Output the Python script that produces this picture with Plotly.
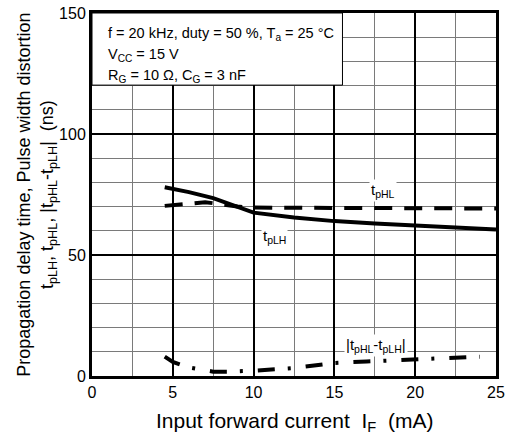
import plotly.graph_objects as go

# Input forward current (mA)
if_tplh = [4.5, 6.0, 7.5, 8.5, 10.0, 12.5, 15.0, 17.5, 20.0, 22.5, 25.0]
tplh = [78.0, 76.0, 73.5, 71.0, 67.5, 65.5, 64.0, 63.0, 62.2, 61.5, 60.5]

if_tphl = [4.5, 6.0, 7.0, 8.0, 9.0, 10.0, 15.0, 20.0, 25.0]
tphl = [70.3, 71.2, 71.8, 71.0, 70.0, 69.6, 69.5, 69.4, 69.2]

if_pwd = [4.5, 5.0, 6.0, 7.5, 8.5, 10.0, 12.5, 14.0, 15.0, 17.0, 20.0, 22.5, 24.0]
pwd = [8.0, 5.8, 3.5, 1.8, 1.8, 2.2, 3.3, 4.5, 5.4, 6.0, 7.0, 7.8, 8.0]

FONT = "Liberation Sans, Arial, sans-serif"

fig = go.Figure()
fig.add_trace(go.Scatter(x=if_tplh, y=tplh, mode="lines",
                         line=dict(color="black", width=4), showlegend=False))
fig.add_trace(go.Scatter(x=if_tphl, y=tphl, mode="lines",
                         line=dict(color="black", width=4, dash="18px,12px"),
                         showlegend=False))
fig.add_trace(go.Scatter(x=if_pwd, y=pwd, mode="lines",
                         line=dict(color="black", width=4, dash="17px,13px,3px,15px"),
                         showlegend=False))

# Condition box in the upper-left corner (covers the grid behind it)
fig.add_shape(type="rect", xref="x", yref="y", x0=0, x1=15.5, y0=120.2, y1=150,
              fillcolor="white", line=dict(color="black", width=1), layer="above")
conditions = [
    "f = 20 kHz, duty = 50 %, T<sub>a</sub> = 25 °C",
    "V<sub>CC</sub> = 15 V",
    "R<sub>G</sub> = 10 Ω, C<sub>G</sub> = 3 nF",
]
for i, line in enumerate(conditions):
    fig.add_annotation(xref="x", yref="y", x=0.85, y=141.2 - i * 8.6,
                       xanchor="left", yanchor="middle", align="left",
                       showarrow=False, text=line,
                       font=dict(family=FONT, size=14.5, color="black"))

# Curve labels
labels = [
    (18.0, 76.5, "t<sub>pHL</sub>"),
    (11.3, 57.5, "t<sub>pLH</sub>"),
    (17.6, 12.5, "|t<sub>pHL</sub>-t<sub>pLH</sub>|"),
]
for lx, ly, lt in labels:
    fig.add_annotation(x=lx, y=ly, text=lt, showarrow=False, bgcolor="white",
                       font=dict(family=FONT, size=15, color="black"), borderpad=1)

fig.add_annotation(xref="paper", yref="paper", x=-0.2, y=0.5, textangle=-90,
                   showarrow=False, align="center",
                   font=dict(family=FONT, size=18, color="black"),
                   text=("Propagation delay time, Pulse width distortion<br>"
                         "t<sub>pLH</sub>, t<sub>pHL</sub>, |t<sub>pHL</sub>-t<sub>pLH</sub>|  (ns)"))

fig.add_annotation(xref="paper", yref="paper", x=0.5, y=-0.127, yanchor="middle",
                   showarrow=False,
                   font=dict(family=FONT, size=21, color="black"),
                   text="Input forward current  I<sub>F</sub>  (mA)")

fig.update_xaxes(range=[0, 25], dtick=5, tick0=0, showgrid=True, gridcolor="black",
                 gridwidth=2, zeroline=False, showline=True, mirror=True,
                 linecolor="black", linewidth=3, ticks="", automargin=False,
                 tickfont=dict(family=FONT, size=16, color="black"),
                 minor=dict(dtick=2.5, tick0=0, showgrid=True, gridcolor="#7a7a7a",
                            gridwidth=1))
fig.update_yaxes(range=[0, 150], dtick=50, tick0=0, showgrid=True, gridcolor="black",
                 gridwidth=2, zeroline=False, showline=True, mirror=True,
                 linecolor="black", linewidth=3, ticks="", automargin=False,
                 tickfont=dict(family=FONT, size=16, color="black"),
                 minor=dict(dtick=10, tick0=0, showgrid=True, gridcolor="#7a7a7a",
                            gridwidth=1))

fig.update_layout(width=509, height=434, margin=dict(l=92, r=13, t=13, b=58),
                  plot_bgcolor="white", paper_bgcolor="white",
                  font=dict(family=FONT))

fig.write_html("out.html")
